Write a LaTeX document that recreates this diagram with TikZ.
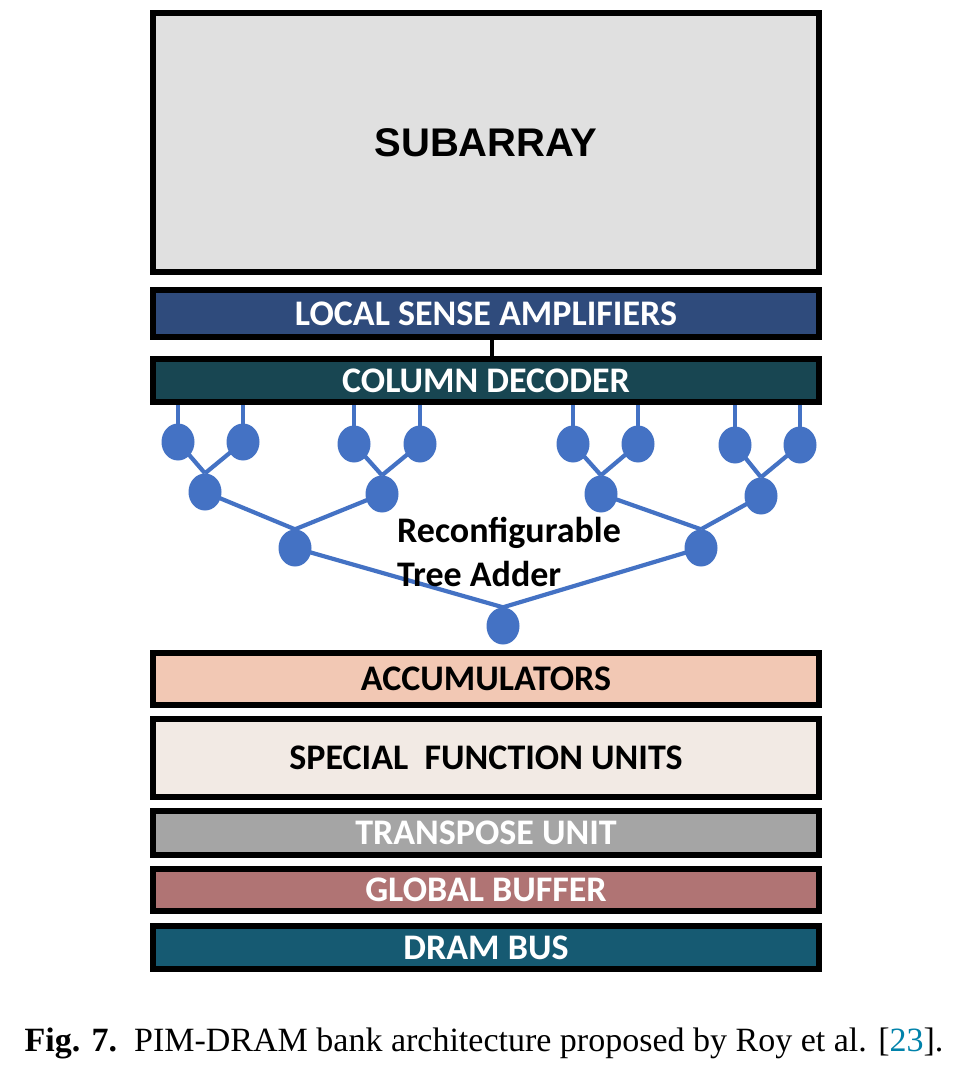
\documentclass[tikz,border=0pt]{standalone}
\usepackage{fontspec}
\setmainfont{Liberation Serif}
\newfontfamily\calib{Carlito}
\newfontfamily\arialf{Liberation Sans}
\definecolor{subgray}{RGB}{224,224,224}
\definecolor{lsablue}{RGB}{47,75,124}
\definecolor{cdteal}{RGB}{24,70,82}
\definecolor{treeblue}{RGB}{68,114,196}
\definecolor{accpink}{RGB}{242,200,180}
\definecolor{sfucream}{RGB}{242,234,228}
\definecolor{tugray}{RGB}{165,165,165}
\definecolor{gbrose}{RGB}{176,116,116}
\definecolor{dbteal}{RGB}{22,90,114}
\definecolor{citeteal}{RGB}{0,130,170}
\tikzset{
  layer/.style={draw=black, line width=6pt, minimum width=666pt, inner sep=0pt,
    font=\calib\bfseries\fontsize{36}{40}\selectfont},
  tnode/.style={ellipse, fill=treeblue, minimum width=33pt, minimum height=37pt, inner sep=0pt},
  tedge/.style={treeblue, line width=4.2pt},
}
\usetikzlibrary{shapes.geometric}
\begin{document}
\begin{tikzpicture}[x=1pt,y=-1pt]
\useasboundingbox (0,0) rectangle (966,1086);
\fill[white] (0,0) rectangle (966,1086);
% layers
\node[layer, fill=subgray, minimum height=259pt, font=\arialf\bfseries\fontsize{40}{44}\selectfont] (sub) at (486,142.5) {SUBARRAY};
\node[layer, fill=lsablue, text=white, minimum height=47pt] (lsa) at (486,313.5) {LOCAL SENSE AMPLIFIERS};
\node[layer, fill=cdteal, text=white, minimum height=43pt] (cd) at (486,380.5) {COLUMN DECODER};
\node[layer, fill=accpink, minimum height=52pt] (acc) at (486,679) {ACCUMULATORS};
\node[layer, fill=sfucream, minimum height=78pt] (sfu) at (486,758) {SPECIAL\ \ FUNCTION UNITS};
\node[layer, fill=tugray, text=white, minimum height=44pt] (tu) at (486,833) {TRANSPOSE UNIT};
\node[layer, fill=gbrose, text=white, minimum height=42pt] (gb) at (486,890) {GLOBAL BUFFER};
\node[layer, fill=dbteal, text=white, minimum height=43pt] (db) at (486,947.5) {DRAM BUS};
\draw[line width=4pt] ([xshift=6pt]lsa.south) -- ([xshift=6pt]cd.north);
% tree nodes
\node[tnode] (l1) at (178,442) {};
\node[tnode] (l2) at (243,442) {};
\node[tnode] (l3) at (354,444) {};
\node[tnode] (l4) at (420,444) {};
\node[tnode] (l5) at (573,444) {};
\node[tnode] (l6) at (638,444) {};
\node[tnode] (l7) at (735,445) {};
\node[tnode] (l8) at (800,445) {};
\node[tnode] (m1) at (205,492) {};
\node[tnode] (m2) at (382,494) {};
\node[tnode] (m3) at (601,494) {};
\node[tnode] (m4) at (761,496) {};
\node[tnode] (n1) at (295,548) {};
\node[tnode] (n2) at (701,548) {};
\node[tnode] (r) at (503,626) {};
% stems
\foreach \l in {l1,l2,l3,l4,l5,l6,l7,l8}
  \draw[tedge] (\l.center) -- (\l.center |- cd.south);
% edges
\draw[tedge] (l1.center) -- (m1.north) (l2.center) -- (m1.north);
\draw[tedge] (l3.center) -- (m2.north) (l4.center) -- (m2.north);
\draw[tedge] (l5.center) -- (m3.north) (l6.center) -- (m3.north);
\draw[tedge] (l7.center) -- (m4.north) (l8.center) -- (m4.north);
\draw[tedge] (m1.center) -- (n1.north) (m2.center) -- (n1.north);
\draw[tedge] (m3.center) -- (n2.north) (m4.center) -- (n2.north);
\draw[tedge] (n1.center) -- (r.north) (n2.center) -- (r.north);
\node[anchor=west, align=left, inner sep=0pt, font=\calib\bfseries\fontsize{36}{44}\selectfont] (lbl) at (397,552) {Reconfigurable\\Tree Adder};
% caption
\node[inner sep=0pt, font=\fontsize{34}{40}\selectfont] (cap) at (484,1043) {\textbf{Fig. 7.}\ \ PIM-DRAM bank architecture proposed by Roy et al. [{\color{citeteal}23}].};
\end{tikzpicture}
\end{document}
